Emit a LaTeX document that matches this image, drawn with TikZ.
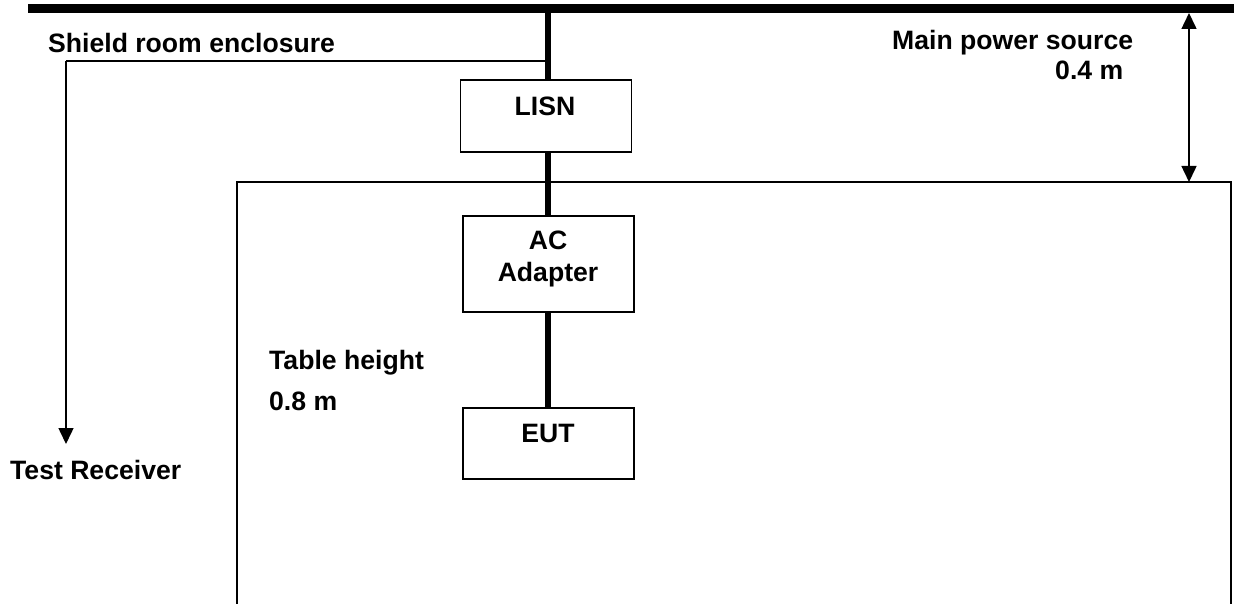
\documentclass[tikz,border=0pt]{standalone}
\usepackage{fontspec}
\setmainfont{Liberation Sans}
\usetikzlibrary{arrows.meta}
\begin{document}
\begin{tikzpicture}[x=1pt,y=-1pt,
  lbl/.style={font=\fontsize{26.6}{30}\selectfont\bfseries, inner sep=0pt, anchor=base west},
  clbl/.style={font=\fontsize{26.6}{30}\selectfont\bfseries, inner sep=0pt, anchor=base},
  box/.style={draw, line width=1.8pt, rectangle, inner sep=0pt, minimum width=171pt},
  power/.style={line width=6.5pt},
  thin/.style={line width=2pt},
  dim/.style={line width=1.5pt},
  tip/.style={-{Triangle[width=15pt,length=16pt]}}
]
\useasboundingbox (0,0) rectangle (1234,604);
% bar (main power source)
\coordinate (barL) at (28,8.5);
\coordinate (barR) at (1240,8.5);
\draw[line width=9pt] (barL) -- (barR);
% boxes
\node[box, minimum height=72pt] (lisn) at (546,116) {};
\node[box, minimum height=96pt] (ac) at (548.5,264) {};
\node[box, minimum height=71pt] (eut) at (548.5,443.5) {};
\node[clbl] (lisnT) at (545,116) {LISN};
\node[clbl] (acT) at (548,250) {AC};
\node[clbl] (adT) at (548,281) {Adapter};
\node[clbl] (eutT) at (548,442) {EUT};
% power cable
\coordinate (tap) at (548,8.5);
\coordinate (join) at (548,61.3);
\draw[power] (tap) -- (lisn.north -| tap);
\draw[power] (lisn.south -| tap) -- (ac.north -| tap);
\draw[power] (ac.south -| tap) -- (eut.north -| tap);
% table
\coordinate (tblL) at (237,604);
\coordinate (tblTR) at (1231,182);
\coordinate (tblR) at (1231,604);
\draw[line width=1.8pt] (tblL) |- (tblTR) -- (tblR);
% receiver cable
\coordinate (rx) at (66,444);
\draw[thin] (join) -- (join -| rx);
\draw[dim, tip] (66,61.3) -- (rx);
% dimension arrow
\coordinate (dimTop) at (1189,13);
\coordinate (dimBot) at (1189,182);
\draw[dim, {Triangle[width=15pt,length=16pt]}-{Triangle[width=15pt,length=16pt]}] (dimTop) -- (dimBot);
% texts
\node[lbl] (shield) at (48,53) {Shield room enclosure};
\node[lbl] (recv) at (10,479) {Test Receiver};
\node[lbl] (mps) at (892,50) {Main power source};
\node[lbl] (d04) at (1055,80) {0.4 m};
\node[lbl] (th) at (269,369) {Table height};
\node[lbl] (d08) at (269,410) {0.8 m};
\end{tikzpicture}
\end{document}
